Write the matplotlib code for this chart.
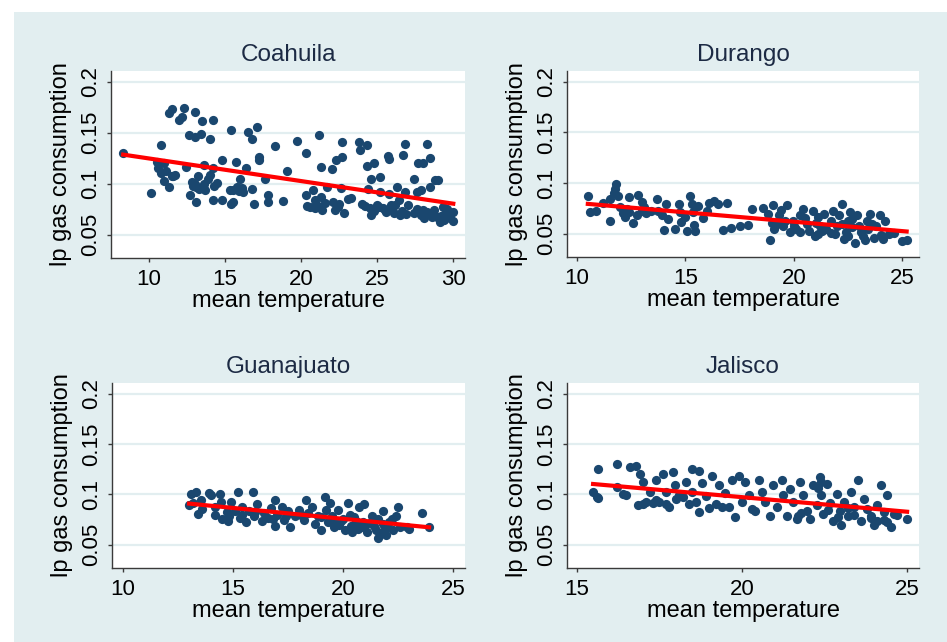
import numpy as np
import matplotlib.pyplot as plt
from matplotlib.patches import Rectangle

plt.rcParams['font.family'] = ['Liberation Sans', 'DejaVu Sans']

# data: (mean temperature, lp gas consumption)
states = ['Coahuila', 'Durango', 'Guanajuato', 'Jalisco']

coahuila = np.array([
    [8.3, 0.130], [10.1, 0.091], [10.8, 0.138], [10.5, 0.121], [10.6, 0.115],
    [10.8, 0.110], [11.0, 0.103], [11.3, 0.097], [11.0, 0.120], [11.5, 0.107],
    [11.6, 0.107], [11.3, 0.169], [11.5, 0.173], [12.0, 0.162], [12.2, 0.165],
    [12.3, 0.174], [12.4, 0.116], [12.6, 0.148], [12.8, 0.102], [12.7, 0.089],
    [13.0, 0.170], [13.0, 0.146], [13.1, 0.082], [13.1, 0.097], [13.2, 0.107],
    [13.4, 0.149], [13.5, 0.161], [13.6, 0.118], [13.6, 0.100], [13.7, 0.094],
    [13.9, 0.105], [14.0, 0.144], [14.0, 0.108], [14.2, 0.084], [14.2, 0.162],
    [14.2, 0.115], [14.3, 0.098], [14.8, 0.123], [14.8, 0.084], [15.4, 0.153],
    [15.3, 0.094], [15.4, 0.080], [15.7, 0.121], [15.8, 0.097], [16.0, 0.105],
    [16.1, 0.096], [16.2, 0.092], [16.4, 0.115], [16.5, 0.151], [16.8, 0.144],
    [16.9, 0.080], [16.8, 0.095], [17.1, 0.156], [17.2, 0.126], [17.2, 0.123],
    [17.6, 0.105], [17.8, 0.089], [17.8, 0.082], [18.3, 0.137], [18.8, 0.083],
    [19.1, 0.112], [19.7, 0.142], [20.3, 0.130], [20.3, 0.089], [20.4, 0.078],
    [20.8, 0.094], [20.9, 0.084], [21.0, 0.079], [21.2, 0.148], [21.3, 0.116],
    [21.2, 0.077], [21.3, 0.087], [21.4, 0.074], [21.7, 0.097], [22.0, 0.114],
    [22.1, 0.082], [22.3, 0.123], [22.4, 0.077], [22.6, 0.096], [22.7, 0.141],
    [22.7, 0.126], [22.8, 0.071], [23.1, 0.085], [23.8, 0.141], [23.9, 0.133],
    [24.0, 0.080], [24.3, 0.138], [24.3, 0.117], [24.4, 0.095], [24.5, 0.076],
    [24.6, 0.069], [24.6, 0.105], [24.8, 0.120], [25.1, 0.077], [25.2, 0.092],
    [25.2, 0.106], [25.5, 0.074], [25.7, 0.127], [25.8, 0.124], [25.8, 0.090],
    [25.9, 0.079], [26.1, 0.071], [26.3, 0.097], [26.4, 0.084], [26.5, 0.069],
    [26.7, 0.128], [26.8, 0.139], [26.8, 0.092], [27.0, 0.079], [27.4, 0.105],
    [27.4, 0.071], [27.6, 0.092], [27.7, 0.120], [27.9, 0.094], [28.0, 0.120],
    [28.0, 0.074], [28.1, 0.066], [28.2, 0.071], [28.3, 0.139], [28.5, 0.125],
    [28.5, 0.097], [28.7, 0.074], [28.8, 0.104], [28.9, 0.067], [29.0, 0.104],
    [29.1, 0.062], [29.3, 0.077], [29.5, 0.071], [30.0, 0.072], [30.0, 0.063],
    [13.0, 0.100], [13.3, 0.095], [12.9, 0.098], [15.5, 0.094], [15.9, 0.093],
    [15.5, 0.082], [20.6, 0.077], [20.9, 0.076], [21.1, 0.078], [22.2, 0.074],
    [22.5, 0.080], [24.2, 0.078], [24.8, 0.073], [25.0, 0.079], [25.4, 0.076],
    [26.0, 0.075], [26.2, 0.079], [26.6, 0.073], [27.6, 0.075], [27.9, 0.069],
    [28.4, 0.070], [28.6, 0.067], [29.2, 0.068], [29.6, 0.075], [29.8, 0.066],
    [11.1, 0.112], [11.7, 0.108], [14.5, 0.101], [21.6, 0.081], [23.3, 0.086],
    [25.6, 0.072], [26.9, 0.070], [28.3, 0.072], [29.4, 0.064],
])

durango = np.array([
    [10.5, 0.087], [10.6, 0.071], [10.9, 0.072], [11.5, 0.063], [11.5, 0.084],
    [11.7, 0.090], [11.8, 0.099], [11.75, 0.094], [11.9, 0.087], [12.0, 0.076],
    [12.1, 0.070], [12.2, 0.066], [12.4, 0.086], [12.4, 0.071], [12.6, 0.061],
    [12.75, 0.068], [12.8, 0.088], [13.0, 0.081], [13.1, 0.076], [13.2, 0.070],
    [13.4, 0.072], [13.7, 0.084], [13.75, 0.072], [13.9, 0.068], [14.0, 0.054],
    [14.1, 0.079], [14.2, 0.064], [14.5, 0.055], [14.7, 0.079], [14.75, 0.071],
    [15.0, 0.066], [15.05, 0.053], [15.2, 0.087], [15.3, 0.079], [15.33, 0.071],
    [15.4, 0.059], [15.44, 0.053], [15.6, 0.077], [16.0, 0.072], [16.1, 0.080],
    [16.3, 0.082], [16.5, 0.079], [16.75, 0.054], [16.9, 0.080], [17.1, 0.056],
    [17.5, 0.058], [17.9, 0.059], [18.05, 0.074], [18.6, 0.075], [18.8, 0.069],
    [18.9, 0.044], [19.05, 0.078], [18.97, 0.061], [19.1, 0.055], [19.3, 0.068],
    [19.4, 0.073], [19.5, 0.058], [19.7, 0.078], [19.8, 0.052], [19.97, 0.063],
    [20.1, 0.055], [20.3, 0.068], [20.4, 0.074], [20.6, 0.060], [20.7, 0.053],
    [20.9, 0.072], [20.97, 0.048], [21.1, 0.066], [21.2, 0.058], [21.4, 0.069],
    [21.5, 0.055], [21.7, 0.063], [21.7, 0.051], [21.8, 0.072], [21.97, 0.058],
    [22.1, 0.068], [22.2, 0.079], [22.3, 0.045], [22.4, 0.052], [22.5, 0.063],
    [22.6, 0.071], [22.7, 0.057], [22.8, 0.041], [22.9, 0.068], [23.0, 0.058],
    [23.2, 0.048], [23.35, 0.063], [23.4, 0.055], [23.5, 0.069], [23.7, 0.046],
    [23.8, 0.058], [23.97, 0.068], [24.1, 0.045], [24.2, 0.063], [25.0, 0.043],
    [25.2, 0.044], [19.2, 0.060], [19.6, 0.063], [20.0, 0.058], [20.5, 0.065],
    [21.0, 0.061], [21.3, 0.053], [21.9, 0.050], [22.2, 0.060], [22.7, 0.064],
    [23.1, 0.052], [23.6, 0.060], [24.4, 0.050], [12.3, 0.074], [13.0, 0.072],
    [11.2, 0.080], [14.8, 0.062], [15.8, 0.065], [22.5, 0.048], [23.3, 0.044],
    [24.0, 0.049], [24.6, 0.051], [21.1, 0.050], [20.3, 0.052],
])

guanajuato = np.array([
    [13.0, 0.089], [13.1, 0.100], [13.3, 0.102], [13.4, 0.081], [13.55, 0.094],
    [13.9, 0.101], [14.0, 0.099], [14.2, 0.088], [14.4, 0.100], [14.46, 0.092],
    [14.5, 0.076], [14.7, 0.083], [14.76, 0.074], [14.9, 0.092], [15.07, 0.084],
    [15.2, 0.102], [15.3, 0.077], [15.4, 0.088], [15.6, 0.073], [15.7, 0.084],
    [15.9, 0.102], [15.97, 0.079], [16.1, 0.090], [16.3, 0.074], [16.4, 0.082],
    [16.6, 0.077], [16.7, 0.087], [16.9, 0.094], [16.9, 0.069], [17.0, 0.080],
    [17.2, 0.088], [17.3, 0.075], [17.5, 0.084], [17.6, 0.068], [17.8, 0.079],
    [18.0, 0.085], [18.2, 0.075], [18.3, 0.094], [18.4, 0.082], [18.6, 0.088],
    [18.7, 0.071], [18.85, 0.079], [19.0, 0.065], [19.15, 0.097], [19.2, 0.085],
    [19.3, 0.073], [19.4, 0.091], [19.5, 0.079], [19.6, 0.068], [19.75, 0.085],
    [19.9, 0.074], [20.06, 0.065], [20.2, 0.0915], [20.3, 0.080], [20.36, 0.069],
    [20.5, 0.078], [20.66, 0.066], [20.7, 0.0875], [20.9, 0.073], [20.96, 0.090],
    [21.1, 0.063], [21.3, 0.079], [21.4, 0.069], [21.6, 0.057], [21.6, 0.076],
    [21.8, 0.084], [21.9, 0.066], [21.95, 0.060], [22.1, 0.073], [22.25, 0.065],
    [22.4, 0.079], [22.5, 0.0875], [22.6, 0.068], [22.9, 0.068], [23.6, 0.082],
    [23.9, 0.068], [13.2, 0.091], [13.6, 0.086], [14.2, 0.080], [14.8, 0.079],
    [15.4, 0.080], [16.0, 0.083], [16.8, 0.076], [17.4, 0.079], [18.1, 0.080],
    [19.0, 0.078], [19.6, 0.072], [20.0, 0.076], [20.4, 0.063], [20.8, 0.068],
    [21.2, 0.072], [21.5, 0.065], [21.8, 0.071], [22.2, 0.076], [23.0, 0.066],
    [20.6, 0.074], [21.0, 0.070], [21.7, 0.062], [22.0, 0.068], [19.8, 0.070],
])

jalisco = np.array([
    [15.49, 0.102], [15.65, 0.125], [15.65, 0.096], [16.2, 0.130], [16.2, 0.107],
    [16.5, 0.099], [16.6, 0.127], [16.8, 0.128], [16.85, 0.089], [16.9, 0.120],
    [17.0, 0.112], [17.1, 0.092], [17.2, 0.102], [17.4, 0.114], [17.4, 0.094],
    [17.6, 0.120], [17.7, 0.102], [17.7, 0.090], [17.9, 0.122], [17.97, 0.109],
    [18.1, 0.099], [18.3, 0.112], [18.4, 0.090], [18.5, 0.125], [18.5, 0.102],
    [18.7, 0.083], [18.7, 0.123], [18.8, 0.111], [18.9, 0.098], [19.1, 0.1185],
    [19.2, 0.090], [19.3, 0.109], [19.5, 0.101], [19.6, 0.0875], [19.7, 0.114],
    [19.8, 0.078], [19.9, 0.118], [19.99, 0.092], [20.1, 0.112], [20.2, 0.099],
    [20.4, 0.084], [20.5, 0.114], [20.6, 0.102], [20.7, 0.092], [20.85, 0.079],
    [20.95, 0.109], [21.05, 0.0875], [21.2, 0.114], [21.25, 0.099], [21.35, 0.079],
    [21.45, 0.105], [21.55, 0.092], [21.66, 0.076], [21.76, 0.112], [21.86, 0.099],
    [21.96, 0.084], [22.06, 0.076], [22.16, 0.109], [22.26, 0.089], [22.36, 0.117],
    [22.4, 0.099], [22.46, 0.081], [22.56, 0.110], [22.66, 0.091], [22.77, 0.074],
    [22.87, 0.100], [22.97, 0.084], [23.0, 0.0695], [23.1, 0.092], [23.2, 0.079],
    [23.3, 0.102], [23.4, 0.0875], [23.5, 0.114], [23.6, 0.074], [23.7, 0.0957],
    [23.8, 0.086], [23.9, 0.079], [24.0, 0.0695], [24.1, 0.089], [24.2, 0.109],
    [24.3, 0.083], [24.4, 0.073], [24.4, 0.099], [24.5, 0.068], [24.6, 0.081],
    [25.0, 0.076], [15.6, 0.097], [17.3, 0.091], [17.5, 0.092], [18.0, 0.095],
    [18.2, 0.097], [19.0, 0.087], [19.4, 0.088], [21.7, 0.079], [21.8, 0.082],
    [22.3, 0.106], [22.4, 0.112], [22.6, 0.085], [22.9, 0.078], [23.2, 0.087],
    [23.4, 0.080], [23.9, 0.077], [24.1, 0.074], [24.3, 0.075], [24.7, 0.080],
    [16.4, 0.100], [17.0, 0.090], [17.8, 0.088], [18.6, 0.092], [20.3, 0.086],
])

panel_data = [coahuila, durango, guanajuato, jalisco]
x_ticks = [[10, 15, 20, 25, 30], [10, 15, 20, 25], [10, 15, 20, 25], [15, 20, 25]]
x_limits = [(7.5, 30.77), (9.54, 25.77), (9.5, 25.53), (14.7, 25.36)]
y_ticks = [0.05, 0.1, 0.15, 0.2]
y_ticklabels = ['0.05', '0.1', '0.15', '0.2']

navy = '#1a476f'
bg = '#e2eef0'
axcol = '#3a3a3a'
W, H = 947, 642

fig = plt.figure(figsize=(W / 100, H / 100), dpi=100)
fig.patches.append(Rectangle((14 / W, 0), 1, 1 - 12 / H, transform=fig.transFigure,
                             facecolor=bg, edgecolor='none', zorder=-10))

# panel boxes in pixels: left, top, right, bottom
boxes = [(111, 71, 465, 258), (567, 71, 919, 257), (112, 383, 465, 568), (567, 383, 919, 568)]

for name, d, xt, xl, (l, t, r, b) in zip(states, panel_data, x_ticks, x_limits, boxes):
    ax = fig.add_axes([l / W, 1 - b / H, (r - l) / W, (b - t) / H])
    ax.set_facecolor('white')
    ax.scatter(d[:, 0], d[:, 1], s=44, color=navy, linewidths=0, zorder=3)
    slope, icpt = np.polyfit(d[:, 0], d[:, 1], 1)
    xs = np.array([d[:, 0].min(), d[:, 0].max()])
    ax.plot(xs, slope * xs + icpt, color='red', lw=3, zorder=4)

    ax.set_xlim(*xl)
    ax.set_ylim(0.027, 0.2105)
    ax.set_xticks(xt)
    ax.set_yticks(y_ticks)
    ax.set_yticklabels(y_ticklabels, rotation=90, va='center')
    ax.grid(axis='y', color=bg, lw=1.6)
    ax.set_axisbelow(True)
    for s in ['top', 'right']:
        ax.spines[s].set_visible(False)
    for s in ['left', 'bottom']:
        ax.spines[s].set_color(axcol)
        ax.spines[s].set_linewidth(1.0)
    ax.tick_params(direction='out', length=3, width=1, color=axcol,
                   labelsize=16, pad=4)
    ax.tick_params(axis='x', pad=5)
    ax.set_xlabel('mean temperature', fontsize=17, labelpad=0)
    ax.set_ylabel('lp gas consumption', fontsize=17, labelpad=6)
    ax.set_title(name, fontsize=17.5, color='#1c2a44', pad=7)

plt.savefig('out.png', dpi=100)
